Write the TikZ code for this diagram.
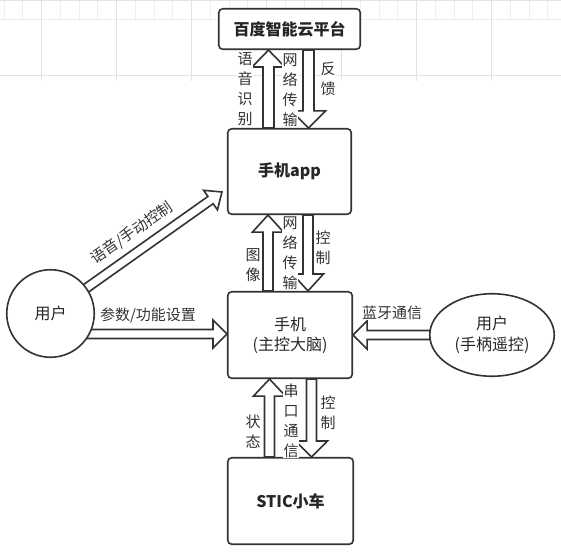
\documentclass[tikz,border=0pt]{standalone}
\usepackage{fontspec}
\setmainfont{Noto Sans CJK SC}
\usetikzlibrary{calc,shapes.geometric}
\definecolor{ink}{HTML}{333333}
\definecolor{gminor}{HTML}{EEEEEE}
\definecolor{gmajor}{HTML}{E2E2E2}
\pgfdeclarelayer{gridlayer}
\pgfdeclarelayer{arrowlayer}
\pgfsetlayers{gridlayer,arrowlayer,main}
\tikzset{
  box/.style={draw=ink, line width=1.6pt, rounded corners=4pt, fill=white, inner sep=0pt, font=\fontsize{16}{20}\selectfont\bfseries, text=black!85},
  blk/.style={draw=ink, line width=1.6pt, fill=white, line join=miter},
  lbl/.style={fill=white, inner sep=0.5pt, text=ink, align=center, font=\fontsize{15}{20}\selectfont},
}
\newcommand\barrow[5]{%
  \coordinate (bh) at ($(#2)!#5pt!(#1)$);
  \draw[blk] ($(#1)!#3pt!90:(#2)$) -- ($(bh)!#3pt!-90:(#1)$) -- ($(bh)!#4pt!-90:(#1)$) -- (#2) -- ($(bh)!#4pt!90:(#1)$) -- ($(bh)!#3pt!90:(#1)$) -- ($(#1)!#3pt!-90:(#2)$) -- cycle;
}
\begin{document}
\begin{tikzpicture}[x=1pt,y=-1pt]
\useasboundingbox (0,0) rectangle (561,553);
\begin{pgfonlayer}{gridlayer}
  \fill[white] (0,0) rectangle (561,553);
  \clip (0,0) rectangle (561,553);
  \begin{scope}[shift={(4.2,1)}]
    \draw[gminor, line width=1pt, step=18.75pt] (-20,20) grid (580,-580);
  \end{scope}
  \begin{scope}[shift={(41.7,1)}]
    \draw[gmajor, line width=1pt, step=75pt] (-80,80) grid (600,-600);
  \end{scope}
\end{pgfonlayer}

% nodes
\node[box, minimum width=141.5pt, minimum height=40.5pt] (baidu) at (289.5,29) {百度智能云平台};
\node[box, minimum width=123.5pt, minimum height=85.5pt] (app) at (289.5,171.5) {手机app};
\node[box, minimum width=124.5pt, minimum height=86.5pt, font=\fontsize{16}{20}\selectfont, align=center] (phone) at (290,335) {手机\\(主控大脑)};
\node[box, minimum width=125.5pt, minimum height=86.5pt] (car) at (290.5,501) {STIC小车};
\node[draw=ink, line width=1.6pt, fill=white, ellipse, inner sep=0pt, minimum width=124.5pt, minimum height=82.5pt, align=center, text=black!85, font=\fontsize{16}{21}\selectfont] (ell) at (492,335) {用户\\(手柄遥控)};
\node[draw=ink, line width=1.6pt, fill=white, circle, inner sep=0pt, minimum size=87.5pt, text=black!85, font=\fontsize{16}{20}\selectfont] (circ) at (50.5,313.5) {用户};

% arrows
\begin{pgfonlayer}{arrowlayer}
  \coordinate (a1) at ($(app.north)+(-21,0)$);
  \coordinate (b1) at ($(baidu.south)+(-21,0)$);
  \barrow{a1}{b1}{5.5}{16.5}{17}
  \coordinate (a2) at ($(baidu.south)+(19,0)$);
  \coordinate (b2) at ($(app.north)+(19,0)$);
  \barrow{a2}{b2}{5.5}{17}{17}
  \coordinate (a3) at ($(phone.north)+(-22,0)$);
  \coordinate (b3) at ($(app.south)+(-21.5,0)$);
  \barrow{a3}{b3}{5}{15.5}{17}
  \coordinate (a4) at ($(app.south)+(18.5,0)$);
  \coordinate (b4) at ($(phone.north)+(18,0)$);
  \barrow{a4}{b4}{5}{15.5}{17}
  \coordinate (a5) at ($(car.north)+(-21,0)$);
  \coordinate (b5) at ($(phone.south)+(-20.5,0)$);
  \barrow{a5}{b5}{5}{16}{17}
  \coordinate (a6) at ($(phone.south)+(21.5,0)$);
  \coordinate (b6) at ($(car.north)+(21,0)$);
  \barrow{a6}{b6}{5}{16}{16}
  \coordinate (b7) at (phone.east);
  \barrow{ell.center}{b7}{4.5}{14}{14}
  \coordinate (a8) at ($(circ.center)+(0,20.5)$);
  \coordinate (b8) at ($(phone.west)+(0,-1)$);
  \barrow{a8}{b8}{4.5}{14}{14}
  \coordinate (b9) at ($(app.west)+(-5,20.5)$);
  \barrow{circ.center}{b9}{4.5}{12}{14}
\end{pgfonlayer}

% labels
\node[lbl] (l1) at (245,89) {语\\音\\识\\别};
\node[lbl] (l2) at (290,90) {网\\络\\传\\输};
\node[lbl] (l3) at (328,79) {反\\馈};
\node[lbl] (l4) at (253,265.5) {图\\像};
\node[lbl] (l5) at (290,253) {网\\络\\传\\输};
\node[lbl] (l6) at (323,248) {控\\制};
\node[lbl] (l7) at (291,421) {串\\口\\通\\信};
\node[lbl] (l8) at (253,432) {状\\态};
\node[lbl] (l9) at (328,413) {控\\制};
\node[lbl] (l10) at (392,313) {蓝牙通信};
\node[lbl] (l11) at (148,316) {参数/功能设置};
\node[lbl, rotate=34.6] (l12) at (132,233) {语音/手动控制};
\end{tikzpicture}
\end{document}
